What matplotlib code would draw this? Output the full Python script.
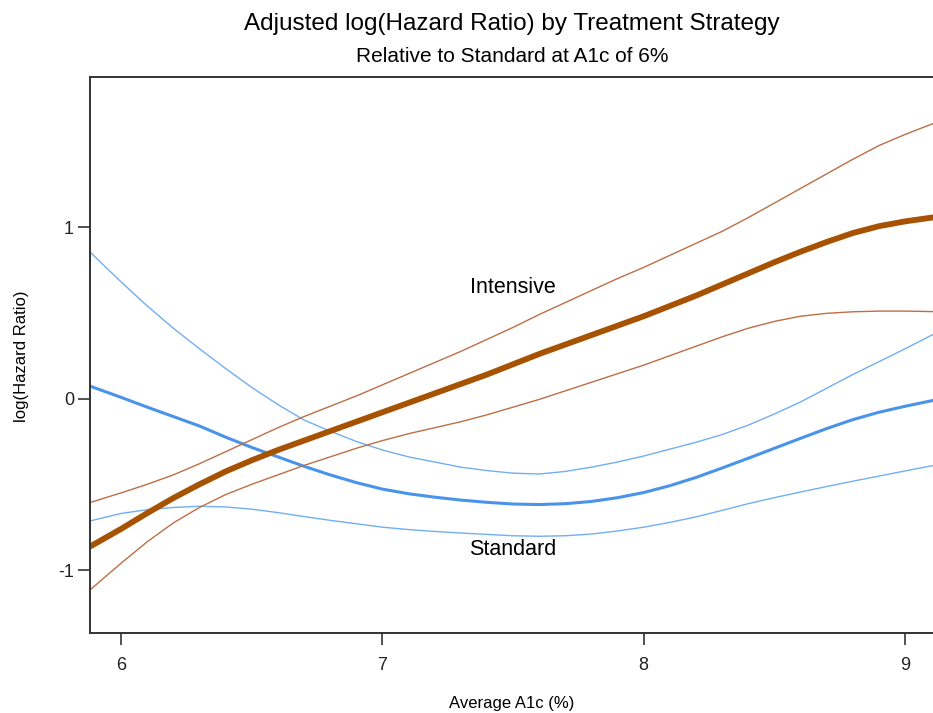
"""Adjusted log(HR) by treatment strategy, relative to standard at A1c 6%."""
import matplotlib
matplotlib.use("Agg")
import matplotlib.pyplot as plt

plt.rcParams["font.family"] = ["Liberation Sans", "DejaVu Sans"]
plt.rcParams["axes.unicode_minus"] = False

# values, every 0.1 of A1c
a1c = [5.88, 6.0, 6.1, 6.2, 6.3, 6.4, 6.5, 6.6, 6.7, 6.8, 6.9,
       7.0, 7.1, 7.2, 7.3, 7.4, 7.5, 7.6, 7.7, 7.8, 7.9,
       8.0, 8.1, 8.2, 8.3, 8.4, 8.5, 8.6, 8.7, 8.8, 8.9, 9.0, 9.11]

intensive_fit = [-0.864, -0.76, -0.668, -0.58, -0.50, -0.425, -0.36, -0.30, -0.245, -0.19, -0.135,
                 -0.08, -0.025, 0.03, 0.085, 0.14, 0.20, 0.26, 0.315, 0.37, 0.425,
                 0.48, 0.54, 0.60, 0.665, 0.73, 0.795, 0.856, 0.913, 0.965, 1.005, 1.033, 1.057]
intensive_hi = [-0.607, -0.55, -0.50, -0.445, -0.38, -0.31, -0.24, -0.17, -0.105, -0.045, 0.015,
                0.08, 0.145, 0.21, 0.275, 0.345, 0.415, 0.49, 0.56, 0.63, 0.70,
                0.765, 0.835, 0.905, 0.975, 1.055, 1.14, 1.225, 1.31, 1.395, 1.475, 1.54, 1.605]
intensive_lo = [-1.117, -0.96, -0.835, -0.725, -0.635, -0.56, -0.50, -0.445, -0.39, -0.34, -0.29,
                -0.245, -0.205, -0.17, -0.135, -0.095, -0.05, -0.005, 0.045, 0.095, 0.145,
                0.195, 0.25, 0.305, 0.36, 0.41, 0.45, 0.48, 0.497, 0.506, 0.51, 0.51, 0.507]

standard_fit = [0.073, 0.007, -0.05, -0.105, -0.16, -0.225, -0.285, -0.34, -0.395, -0.445, -0.49,
                -0.528, -0.555, -0.575, -0.592, -0.605, -0.615, -0.618, -0.613, -0.60, -0.578,
                -0.548, -0.508, -0.46, -0.405, -0.348, -0.29, -0.232, -0.175, -0.123, -0.08, -0.045, -0.01]
standard_hi = [0.856, 0.68, 0.54, 0.41, 0.29, 0.175, 0.065, -0.035, -0.125, -0.19, -0.25,
               -0.30, -0.34, -0.37, -0.40, -0.42, -0.435, -0.44, -0.425, -0.40, -0.37,
               -0.335, -0.295, -0.255, -0.21, -0.155, -0.09, -0.02, 0.06, 0.14, 0.215, 0.29, 0.376]
standard_lo = [-0.714, -0.67, -0.648, -0.635, -0.628, -0.632, -0.645, -0.665, -0.688, -0.71, -0.73,
               -0.75, -0.764, -0.775, -0.784, -0.792, -0.80, -0.803, -0.80, -0.79, -0.772,
               -0.75, -0.722, -0.69, -0.652, -0.613, -0.578, -0.545, -0.513, -0.482, -0.452, -0.422, -0.39]

xticks = [6, 7, 8, 9]
yticks = [-1, 0, 1]

BROWN = "#A65200"
BROWN_T = "#BD6E45"
BLUE = "#4A93EA"
BLUE_T = "#71AFF2"

fig = plt.figure(figsize=(9.33, 7.13), dpi=100)
ax = fig.add_axes([90 / 933, 80 / 713, 843 / 933, 556 / 713])

ax.plot(a1c, standard_hi, color=BLUE_T, lw=1.0)
ax.plot(a1c, standard_lo, color=BLUE_T, lw=1.0)
ax.plot(a1c, standard_fit, color=BLUE, lw=2.2)
ax.plot(a1c, intensive_hi, color=BROWN_T, lw=1.0)
ax.plot(a1c, intensive_lo, color=BROWN_T, lw=1.0)
ax.plot(a1c, intensive_fit, color=BROWN, lw=4.2, solid_capstyle="butt")

ax.text(7.5, 0.645, "Intensive", ha="center", va="center", fontsize=15.5)
ax.text(7.5, -0.88, "Standard", ha="center", va="center", fontsize=15.5)

ax.set_xlim(5.881, 9.107)
ax.set_ylim(-1.367, 1.875)
ax.set_xticks(xticks)
ax.set_yticks(yticks)
ax.tick_params(direction="out", length=8.5, width=1.2, labelsize=13, colors="#333333",
               labelcolor="#222222")
ax.tick_params(axis="x", pad=9)
ax.tick_params(axis="y", pad=3)
ax.spines["right"].set_visible(False)
for s in ("left", "bottom", "top"):
    ax.spines[s].set_color("#333333")
    ax.spines[s].set_linewidth(1.4)

fig.text(0.5485, 0.966, "Adjusted log(Hazard Ratio) by Treatment Strategy",
         ha="center", va="center", fontsize=17.5)
fig.text(0.5485, 0.921, "Relative to Standard at A1c of 6%",
         ha="center", va="center", fontsize=15)
fig.text(0.5485, 0.014, "Average A1c (%)", ha="center", va="center", fontsize=12)
fig.text(0.0235, 0.5, "log(Hazard Ratio)", ha="center", va="center", rotation=90, fontsize=12)

fig.savefig("out.png", dpi=100)
